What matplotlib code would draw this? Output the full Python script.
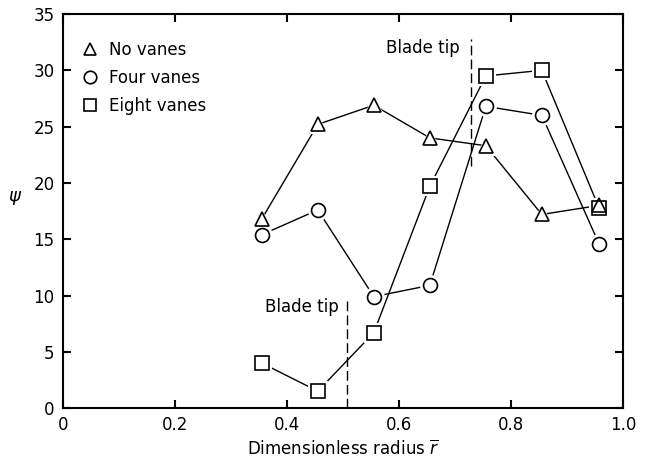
import matplotlib
matplotlib.use("Agg")
import matplotlib.pyplot as plt

r = [0.355, 0.455, 0.555, 0.655, 0.755, 0.855, 0.957]
no_vanes = [16.8, 25.2, 26.9, 24.0, 23.3, 17.2, 18.0]
four_vanes = [15.4, 17.6, 9.9, 10.9, 26.8, 26.0, 14.6]
eight_vanes = [4.0, 1.5, 6.7, 19.7, 29.5, 30.0, 17.8]
series_labels = ["No vanes", "Four vanes", "Eight vanes"]
xticks = [0, 0.2, 0.4, 0.6, 0.8, 1.0]
xticklabels = ["0", "0.2", "0.4", "0.6", "0.8", "1.0"]
yticks = [0, 5, 10, 15, 20, 25, 30, 35]
blade_tip_1 = (0.507, 0.0, 9.6)
blade_tip_2 = (0.729, 21.5, 32.8)

plt.rcParams['font.family'] = ['DejaVu Sans']
fig = plt.figure(figsize=(6.49, 4.68), dpi=100)
ax = fig.add_axes([0.097, 0.128, 0.863, 0.842])

series = [(no_vanes, '^', 10), (four_vanes, 'o', 10), (eight_vanes, 's', 9.5)]
for (vals, m, ms), lab in zip(series, series_labels):
    ax.plot(r, vals, color='black', lw=1.0, zorder=2)
    ax.plot(r, vals, ls='None', marker=m, ms=ms + 5, mfc='white', mec='white', mew=0, zorder=3)
    ax.plot(r, vals, ls='None', marker=m, ms=ms, mfc='none', mec='black', mew=1.2, zorder=4, label=lab)

for (x, y0, y1) in [blade_tip_1, blade_tip_2]:
    ax.plot([x, x], [y0, y1], color='black', lw=1.0, ls=(0, (7, 3)), zorder=1)
ax.text(blade_tip_1[0] - 0.015, 9.0, "Blade tip", ha='right', va='center', fontsize=12)
ax.text(blade_tip_2[0] - 0.02, 32.0, "Blade tip", ha='right', va='center', fontsize=12)

ax.set_xlim(0, 1.0)
ax.set_ylim(0, 35)
ax.set_xticks(xticks)
ax.set_xticklabels(xticklabels)
ax.set_yticks(yticks)
ax.tick_params(direction='in', top=True, right=True, length=6, width=1.5, labelsize=12, pad=6)
for s in ax.spines.values():
    s.set_linewidth(1.5)

ax.set_xlabel(r"Dimensionless radius $\overline{r}$", fontsize=12, labelpad=4)
ax.set_ylabel(r"$\psi$", fontsize=13, rotation=0)
ax.yaxis.set_label_coords(-0.085, 0.51)

leg = ax.legend(loc='upper left', bbox_to_anchor=(0.025, 0.948), frameon=False, fontsize=12,
                handlelength=0.8, handletextpad=0.7, borderaxespad=0.0, labelspacing=0.6)
for h in leg.legend_handles:
    h.set_markersize(9)

fig.savefig("out.png", dpi=100)
